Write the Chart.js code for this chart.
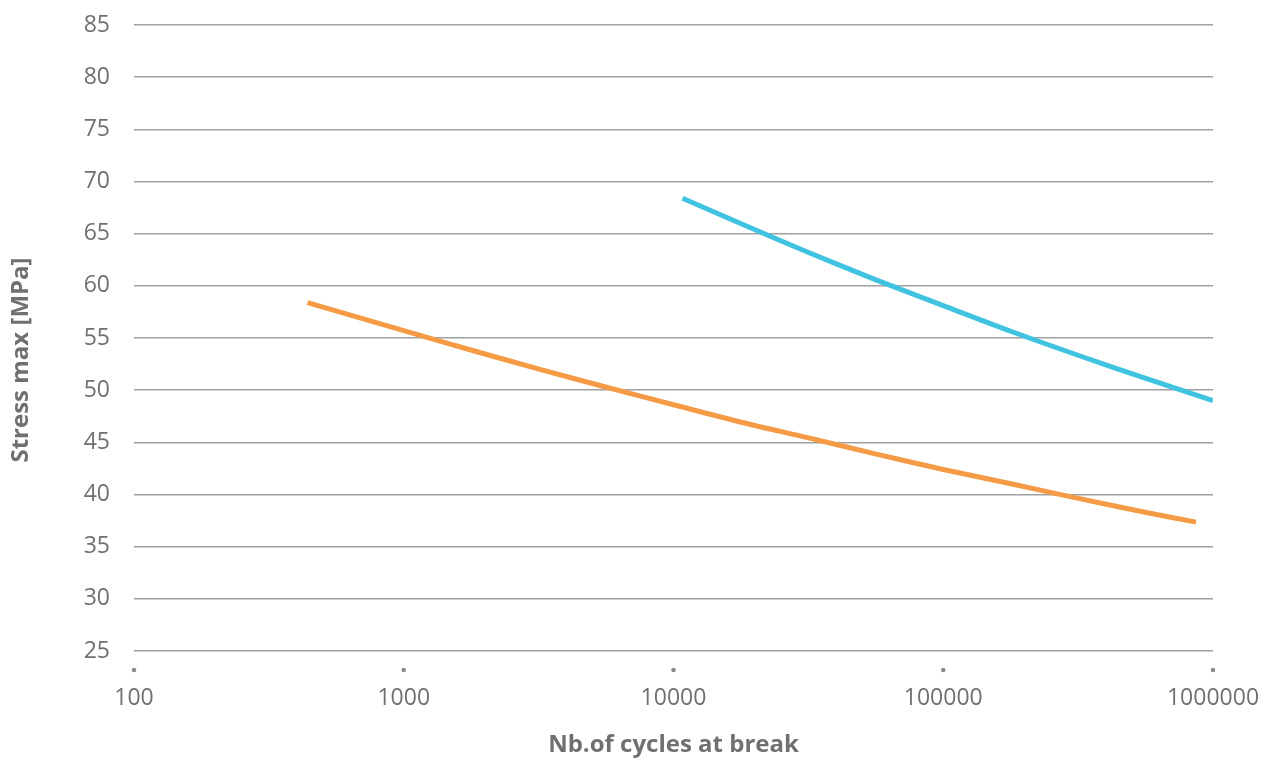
<!DOCTYPE html>
<html>
<head>
<meta charset="utf-8">
<script src="https://cdn.jsdelivr.net/npm/chart.js@4/dist/chart.umd.min.js"></script>
<style>
  html, body { margin: 0; padding: 0; background: #ffffff; }
  #wrap { width: 1270px; height: 763px; position: relative; }
</style>
</head>
<body>
<div id="wrap"><canvas id="c" width="1270" height="763"></canvas></div>
<script>
// Fatigue curves: max stress vs number of cycles to failure
const xTickValues = [100, 1000, 10000, 100000, 1000000];
const yTickMin = 25, yTickMax = 85, yTickStep = 5;

const orangeCycles = [440, 1000, 1800, 3200, 5600, 10000, 18000, 32000, 56000, 100000, 180000, 320000, 560000, 865000];
const orangeStress = [58.4, 55.7, 53.8, 52.0, 50.3, 48.6, 46.9, 45.4, 43.9, 42.4, 41.0, 39.6, 38.3, 37.35];

const blueCycles = [10800, 18000, 32000, 56000, 100000, 180000, 320000, 560000, 1000000];
const blueStress = [68.4, 65.9, 63.15, 60.6, 58.1, 55.6, 53.3, 51.15, 49.0];

const xTitle = 'Nb.of cycles at break';
const yTitle = 'Stress max [MPa]';

const textGrey = '#6f7072';
const fontFamily = '"Open Sans", Lato, sans-serif';

function toPoints(xs, ys) { return xs.map((x, i) => ({ x: x, y: ys[i] })); }

// Dots under the x axis at each decade, plus the two axis titles
const axisDecor = {
  id: 'axisDecor',
  afterDraw(chart) {
    const ctx = chart.ctx;
    const xs = chart.scales.x;
    const area = chart.chartArea;
    ctx.save();
    ctx.fillStyle = '#8a8b8d';
    xTickValues.forEach(v => {
      const px = xs.getPixelForValue(v);
      ctx.beginPath();
      ctx.arc(px, area.bottom + 19, 2.3, 0, Math.PI * 2);
      ctx.fill();
    });
    ctx.fillStyle = textGrey;
    ctx.font = 'bold 24px ' + fontFamily;
    ctx.textAlign = 'center';
    ctx.textBaseline = 'middle';
    ctx.fillText(xTitle, (area.left + area.right) / 2, 745);
    ctx.translate(21, 360);
    ctx.rotate(-Math.PI / 2);
    ctx.fillText(yTitle, 0, 0);
    ctx.restore();
  }
};

new Chart(document.getElementById('c'), {
  type: 'line',
  data: {
    datasets: [
      {
        data: toPoints(orangeCycles, orangeStress),
        borderColor: '#f59a45',
        borderWidth: 5,
        pointRadius: 0,
        tension: 0.3,
        fill: false
      },
      {
        data: toPoints(blueCycles, blueStress),
        borderColor: '#3fc3e0',
        borderWidth: 5,
        pointRadius: 0,
        tension: 0.3,
        fill: false
      }
    ]
  },
  options: {
    responsive: false,
    animation: false,
    devicePixelRatio: 1,
    layout: { padding: { top: 25, right: 57, left: 0, bottom: 0 } },
    plugins: { legend: { display: false }, tooltip: { enabled: false } },
    scales: {
      x: {
        type: 'logarithmic',
        min: 100,
        max: 1000000,
        afterBuildTicks(scale) { scale.ticks = xTickValues.map(v => ({ value: v })); },
        afterFit(scale) {
          scale.height = 112;
          scale.paddingLeft = 0;
          scale.paddingRight = 0;
        },
        grid: { display: false },
        border: { display: false },
        ticks: {
          padding: 26,
          color: textGrey,
          font: { family: fontFamily, size: 23 },
          maxRotation: 0,
          autoSkip: false,
          callback: v => String(v)
        }
      },
      y: {
        min: yTickMin,
        max: yTickMax,
        afterFit(scale) {
          scale.width = 134;
          scale.paddingTop = 0;
          scale.paddingBottom = 0;
        },
        grid: { color: '#9fa0a2', lineWidth: 1.5, drawTicks: false },
        border: { display: false },
        ticks: {
          stepSize: yTickStep,
          padding: 24,
          color: textGrey,
          font: { family: fontFamily, size: 23 }
        }
      }
    }
  },
  plugins: [axisDecor]
});
</script>
</body>
</html>
